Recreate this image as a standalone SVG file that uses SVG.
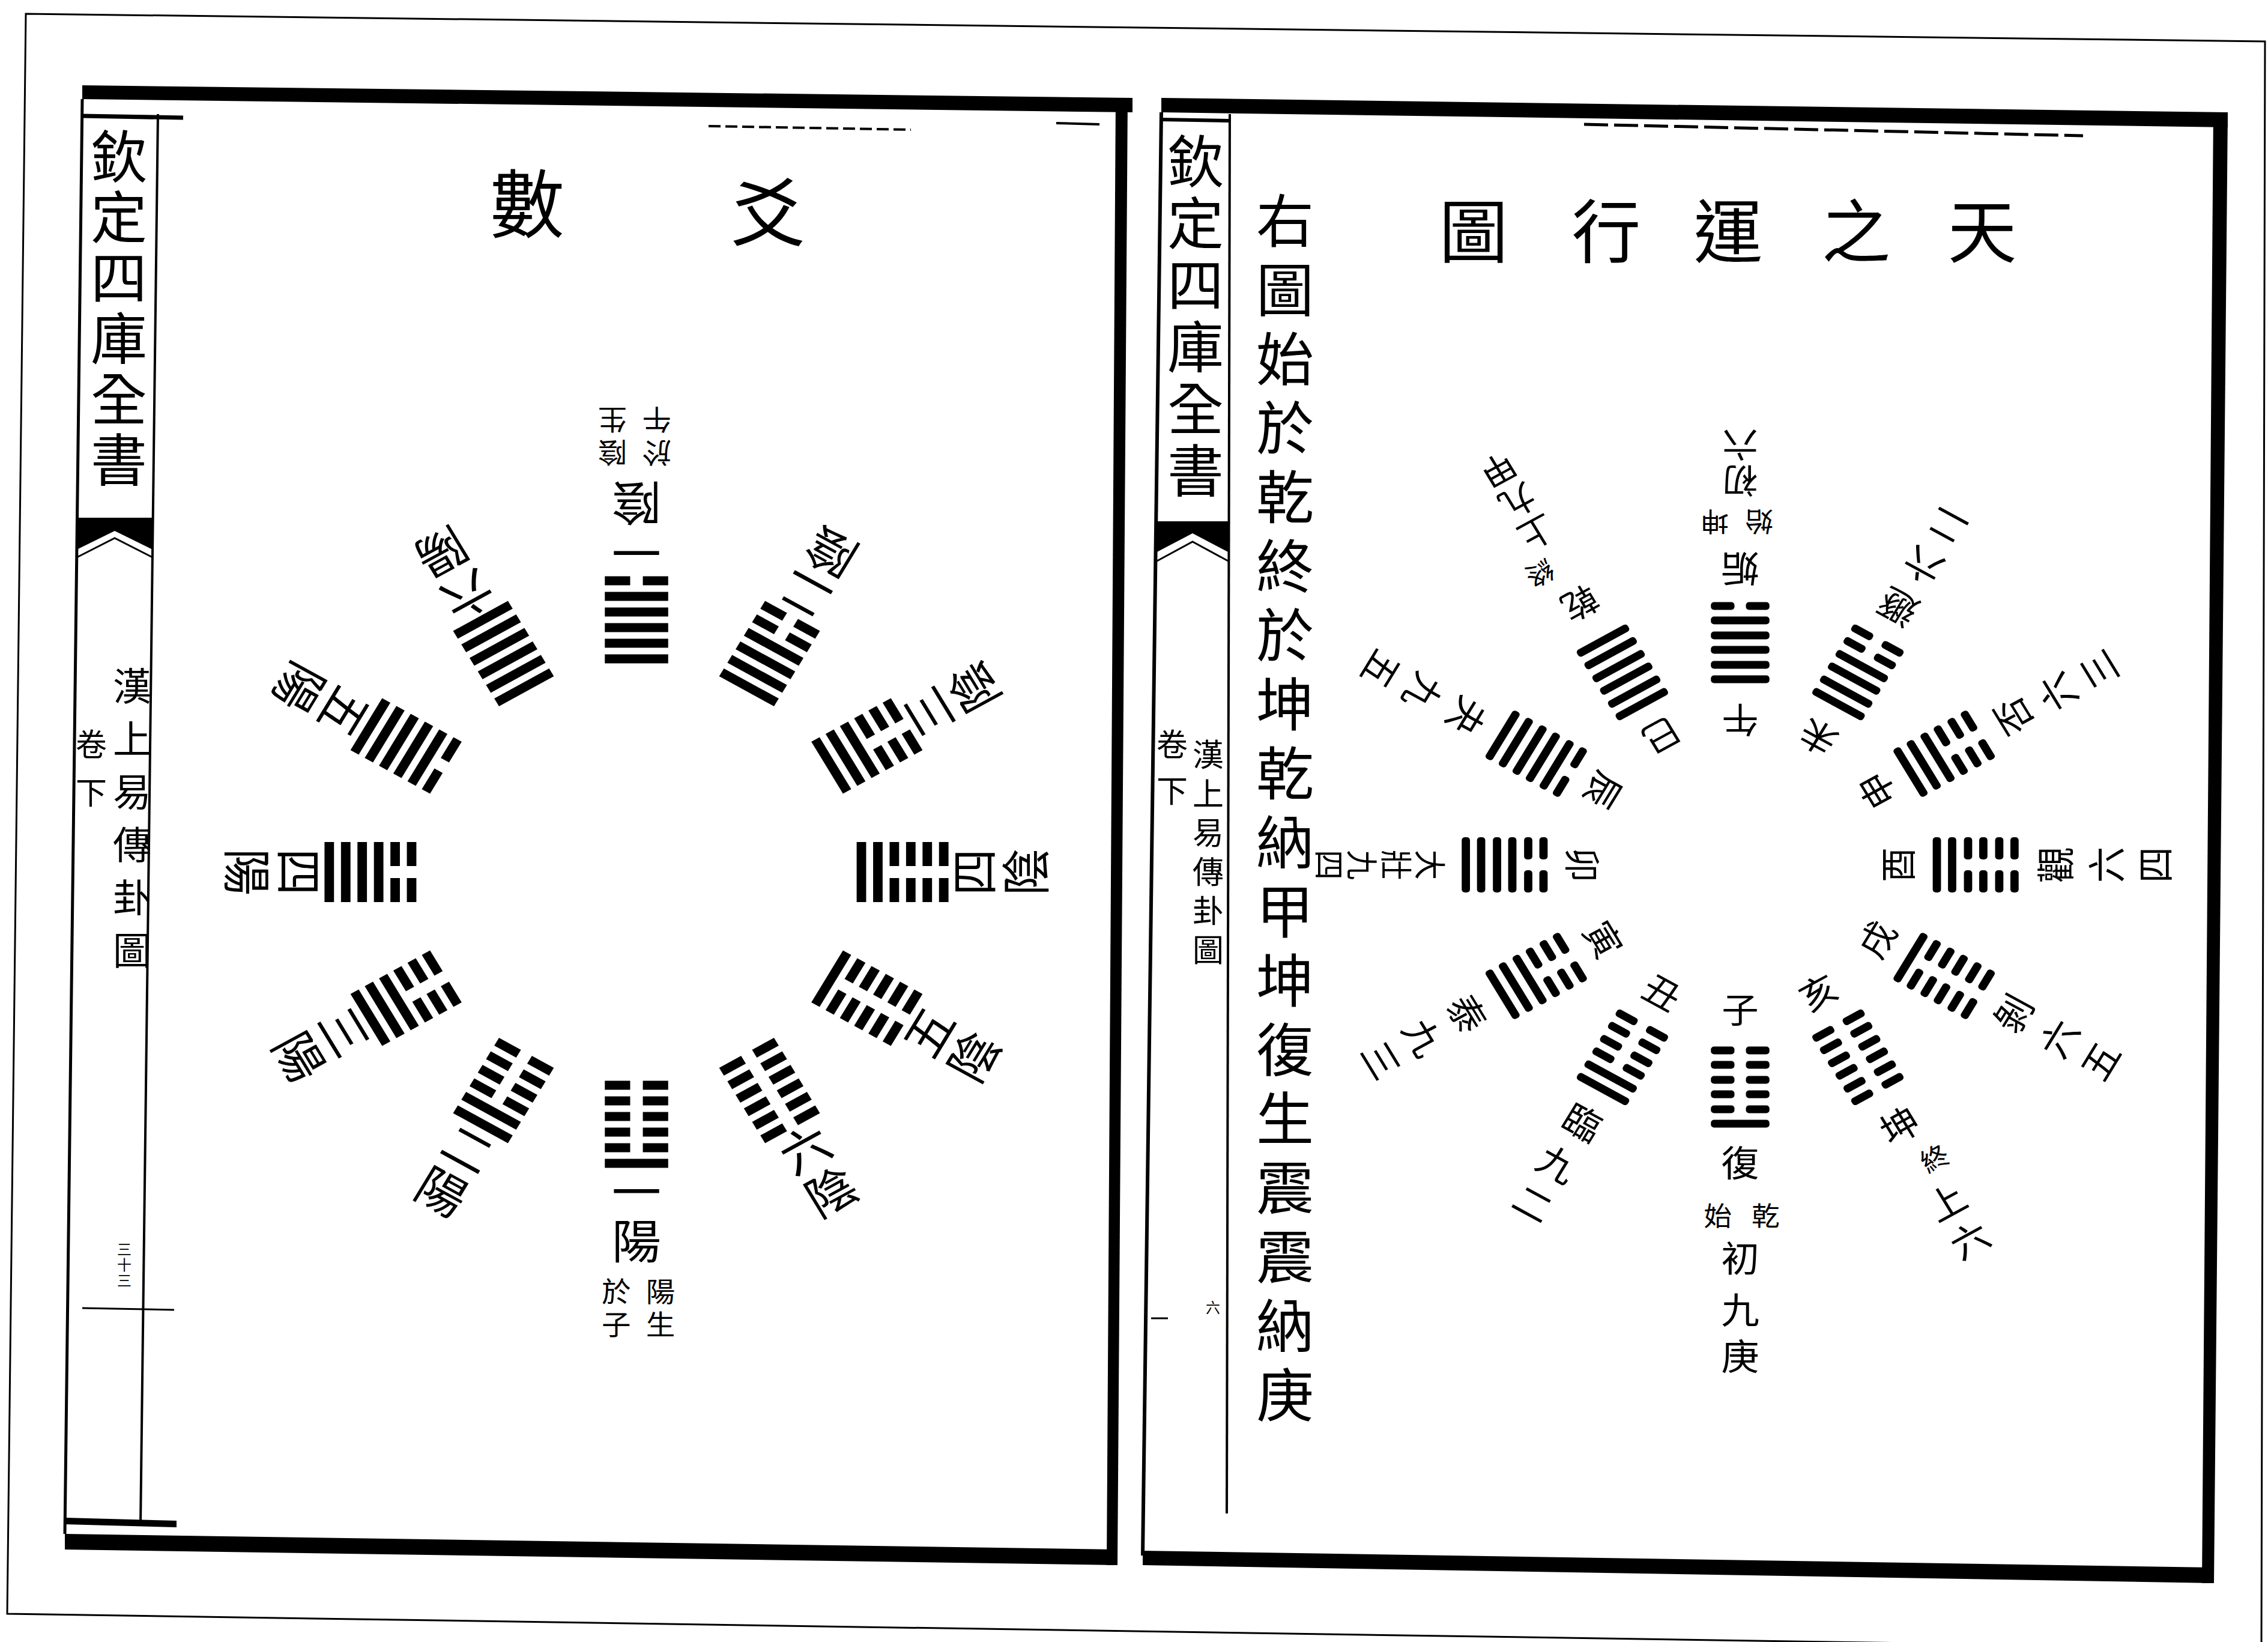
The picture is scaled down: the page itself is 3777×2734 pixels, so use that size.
<svg xmlns="http://www.w3.org/2000/svg" xmlns:xlink="http://www.w3.org/1999/xlink" width="3777" height="2734" viewBox="0 0 3777 2734">
<style>
.t{font-family:"Noto Sans CJK TC","Noto Sans CJK SC",sans-serif;text-anchor:middle;dominant-baseline:central;fill:#000}
.lb{font-size:78px}
.ls{font-size:46px}
.ro{font-size:60px}
.ro2{font-size:56px}
.ri{font-size:58px}
.rp{font-size:44px}
.r4{font-size:50px}
.ttl{font-size:115px}
.ttl2{font-size:124px}
.col{font-size:96px}
.mg{font-size:94px}
.mg2{font-size:64px}
.mg3{font-size:52px}
.pn{font-size:24px}
.ln{stroke:#000;fill:none}
.blk{fill:#000}
</style>
<defs>
<rect id="Ls" x="-50" y="-7.5" width="100" height="15"/>
<g id="Lb"><rect x="-50" y="-7.5" width="40" height="15"/><rect x="10" y="-7.5" width="40" height="15"/></g>
<rect id="Rs" x="-46" y="-6.5" width="92" height="13" rx="5"/>
<g id="Rb"><rect x="-46" y="-6.5" width="37" height="13" rx="5"/><rect x="9" y="-6.5" width="37" height="13" rx="5"/></g>
</defs>
<rect x="0" y="0" width="3777" height="2734" fill="#fff"/>

<g id="page-frame">
<polygon class="ln" stroke-width="3" points="43,23 3772,69 3766,2745 12,2687"/>
<polygon class="blk" points="137,142 1886,163 1886,187 137,165"/>
<polygon class="blk" points="1858,163 1878,163 1861,2606 1843,2606"/>
<polygon class="blk" points="108,2554 1861,2580 1861,2606 108,2580"/>
<line class="ln" stroke-width="5" x1="137" y1="165" x2="108" y2="2554"/>
<line class="ln" stroke-width="4" x1="263" y1="190" x2="234" y2="2540"/>
<line class="ln" stroke-width="7" x1="137" y1="193" x2="305" y2="196"/>
<polygon class="blk" points="108,2527 294,2532 294,2543 108,2538"/>
<line class="ln" stroke-width="3" x1="137" y1="2178" x2="290" y2="2181"/>
<polygon class="blk" points="128,862 254,862 254,915 191,884 128,915"/>
<polyline class="ln" stroke-width="3" points="128,928 191,896 254,928"/>
<line class="ln" stroke-width="4" stroke-dasharray="20 8" x1="1180" y1="210" x2="1517" y2="216"/>
<line class="ln" stroke-width="4" x1="1759" y1="205" x2="1831" y2="207"/>
<polygon class="blk" points="1934,163 3710,187 3710,212 1934,187"/>
<polygon class="blk" points="3686,187 3710,187 3687,2636 3667,2636"/>
<polygon class="blk" points="1903,2582 3687,2610 3687,2636 1903,2606"/>
<line class="ln" stroke-width="6" x1="1934" y1="187" x2="1903" y2="2590"/>
<line class="ln" stroke-width="4" x1="2048" y1="190" x2="2043" y2="2520"/>
<line class="ln" stroke-width="6" x1="1934" y1="199" x2="2046" y2="201"/>
<line class="ln" stroke-width="3" x1="1917" y1="2195" x2="1945" y2="2195"/>
<polygon class="blk" points="1925,868 2047,868 2047,920 1986,888 1925,920"/>
<polyline class="ln" stroke-width="3" points="1925,935 1986,902 2047,935"/>
<line class="ln" stroke-width="5" stroke-dasharray="40 10" x1="2638" y1="207" x2="3469" y2="226"/>
</g>

<g id="left-margin">
<text class="t mg" x="198" y="255">欽</text>
<text class="t mg" x="198" y="356">定</text>
<text class="t mg" x="198" y="457">四</text>
<text class="t mg" x="198" y="558">庫</text>
<text class="t mg" x="198" y="659">全</text>
<text class="t mg" x="198" y="760">書</text>
<text class="t mg2" x="220" y="1138">漢</text>
<text class="t mg2" x="220" y="1226">上</text>
<text class="t mg2" x="220" y="1314">易</text>
<text class="t mg2" x="220" y="1402">傳</text>
<text class="t mg2" x="220" y="1490">卦</text>
<text class="t mg2" x="220" y="1578">圖</text>
<text class="t mg3" x="152" y="1236">卷</text>
<text class="t mg3" x="152" y="1316">下</text>
<text class="t pn" x="207" y="2078">三</text>
<text class="t pn" x="207" y="2104">十</text>
<text class="t pn" x="207" y="2130">三</text>
</g>

<g id="left-title">
<text class="t ttl2" x="878" y="332">數</text>
<text class="t ttl2" x="1279" y="346">爻</text>
</g>

<g id="left-diagram" transform="translate(1060,1452) scale(1.055,1)">
<g id="L-fu" transform="rotate(0)">
<g transform="translate(0,420)"><use href="#Ls" y="65"/><use href="#Lb" y="39"/><use href="#Lb" y="13"/><use href="#Lb" y="-13"/><use href="#Lb" y="-39"/><use href="#Lb" y="-65"/></g>
<text class="t lb" x="0" y="528">一</text><text class="t lb" x="0" y="610">陽</text>
<text class="t ls" x="38" y="695">陽</text><text class="t ls" x="38" y="750">生</text>
<text class="t ls" x="-32" y="695">於</text><text class="t ls" x="-32" y="750">子</text>
</g>
<g id="L-lin" transform="rotate(30)">
<g transform="translate(0,420)"><use href="#Ls" y="65"/><use href="#Ls" y="39"/><use href="#Lb" y="13"/><use href="#Lb" y="-13"/><use href="#Lb" y="-39"/><use href="#Lb" y="-65"/></g>
<text class="t lb" x="0" y="528">二</text><text class="t lb" x="0" y="610">陽</text>
</g>
<g id="L-tai" transform="rotate(60)">
<g transform="translate(0,420)"><use href="#Ls" y="65"/><use href="#Ls" y="39"/><use href="#Ls" y="13"/><use href="#Lb" y="-13"/><use href="#Lb" y="-39"/><use href="#Lb" y="-65"/></g>
<text class="t lb" x="0" y="528">三</text><text class="t lb" x="0" y="610">陽</text>
</g>
<g id="L-dazhuang" transform="rotate(90)">
<g transform="translate(0,420)"><use href="#Ls" y="65"/><use href="#Ls" y="39"/><use href="#Ls" y="13"/><use href="#Ls" y="-13"/><use href="#Lb" y="-39"/><use href="#Lb" y="-65"/></g>
<text class="t lb" x="0" y="528">四</text><text class="t lb" x="0" y="610">陽</text>
</g>
<g id="L-guai" transform="rotate(120)">
<g transform="translate(0,420)"><use href="#Ls" y="65"/><use href="#Ls" y="39"/><use href="#Ls" y="13"/><use href="#Ls" y="-13"/><use href="#Ls" y="-39"/><use href="#Lb" y="-65"/></g>
<text class="t lb" x="0" y="528">五</text><text class="t lb" x="0" y="610">陽</text>
</g>
<g id="L-qian" transform="rotate(150)">
<g transform="translate(0,420)"><use href="#Ls" y="65"/><use href="#Ls" y="39"/><use href="#Ls" y="13"/><use href="#Ls" y="-13"/><use href="#Ls" y="-39"/><use href="#Ls" y="-65"/></g>
<text class="t lb" x="0" y="528">六</text><text class="t lb" x="0" y="610">陽</text>
</g>
<g id="L-gou" transform="rotate(180)">
<g transform="translate(0,420)"><use href="#Lb" y="65"/><use href="#Ls" y="39"/><use href="#Ls" y="13"/><use href="#Ls" y="-13"/><use href="#Ls" y="-39"/><use href="#Ls" y="-65"/></g>
<text class="t lb" x="0" y="528">一</text><text class="t lb" x="0" y="610">陰</text>
<text class="t ls" x="38" y="695">陰</text><text class="t ls" x="38" y="750">生</text>
<text class="t ls" x="-32" y="695">於</text><text class="t ls" x="-32" y="750">午</text>
</g>
<g id="L-dun" transform="rotate(210)">
<g transform="translate(0,420)"><use href="#Lb" y="65"/><use href="#Lb" y="39"/><use href="#Ls" y="13"/><use href="#Ls" y="-13"/><use href="#Ls" y="-39"/><use href="#Ls" y="-65"/></g>
<text class="t lb" x="0" y="528">二</text><text class="t lb" x="0" y="610">陰</text>
</g>
<g id="L-pi" transform="rotate(240)">
<g transform="translate(0,420)"><use href="#Lb" y="65"/><use href="#Lb" y="39"/><use href="#Lb" y="13"/><use href="#Ls" y="-13"/><use href="#Ls" y="-39"/><use href="#Ls" y="-65"/></g>
<text class="t lb" x="0" y="528">三</text><text class="t lb" x="0" y="610">陰</text>
</g>
<g id="L-guan" transform="rotate(270)">
<g transform="translate(0,420)"><use href="#Lb" y="65"/><use href="#Lb" y="39"/><use href="#Lb" y="13"/><use href="#Lb" y="-13"/><use href="#Ls" y="-39"/><use href="#Ls" y="-65"/></g>
<text class="t lb" x="0" y="528">四</text><text class="t lb" x="0" y="610">陰</text>
</g>
<g id="L-bo" transform="rotate(300)">
<g transform="translate(0,420)"><use href="#Lb" y="65"/><use href="#Lb" y="39"/><use href="#Lb" y="13"/><use href="#Lb" y="-13"/><use href="#Lb" y="-39"/><use href="#Ls" y="-65"/></g>
<text class="t lb" x="0" y="528">五</text><text class="t lb" x="0" y="610">陰</text>
</g>
<g id="L-kun" transform="rotate(330)">
<g transform="translate(0,420)"><use href="#Lb" y="65"/><use href="#Lb" y="39"/><use href="#Lb" y="13"/><use href="#Lb" y="-13"/><use href="#Lb" y="-39"/><use href="#Lb" y="-65"/></g>
<text class="t lb" x="0" y="528">六</text><text class="t lb" x="0" y="610">陰</text>
</g>
</g>

<g id="right-margin">
<text class="t mg" x="1991" y="263">欽</text>
<text class="t mg" x="1991" y="366">定</text>
<text class="t mg" x="1991" y="469">四</text>
<text class="t mg" x="1991" y="572">庫</text>
<text class="t mg" x="1991" y="675">全</text>
<text class="t mg" x="1991" y="778">書</text>
<text class="t mg3" x="2012" y="1253">漢</text>
<text class="t mg3" x="2012" y="1318">上</text>
<text class="t mg3" x="2012" y="1383">易</text>
<text class="t mg3" x="2012" y="1448">傳</text>
<text class="t mg3" x="2012" y="1513">卦</text>
<text class="t mg3" x="2012" y="1578">圖</text>
<text class="t mg3" x="1952" y="1236">卷</text>
<text class="t mg3" x="1952" y="1313">下</text>
<text class="t pn" x="2020" y="2175">六</text>
</g>

<g id="right-title">
<text class="t ttl" x="3301" y="378">天</text>
<text class="t ttl" x="3091" y="378">之</text>
<text class="t ttl" x="2878" y="378">運</text>
<text class="t ttl" x="2675" y="378">行</text>
<text class="t ttl" x="2454" y="378">圖</text>
</g>

<g id="right-note">
<text class="t col" x="2140" y="361">右</text>
<text class="t col" x="2140" y="476">圖</text>
<text class="t col" x="2140" y="591">始</text>
<text class="t col" x="2140" y="706">於</text>
<text class="t col" x="2140" y="821">乾</text>
<text class="t col" x="2140" y="936">終</text>
<text class="t col" x="2140" y="1051">於</text>
<text class="t col" x="2140" y="1166">坤</text>
<text class="t col" x="2140" y="1281">乾</text>
<text class="t col" x="2140" y="1396">納</text>
<text class="t col" x="2140" y="1511">甲</text>
<text class="t col" x="2140" y="1626">坤</text>
<text class="t col" x="2140" y="1741">復</text>
<text class="t col" x="2140" y="1856">生</text>
<text class="t col" x="2140" y="1971">震</text>
<text class="t col" x="2140" y="2086">震</text>
<text class="t col" x="2140" y="2201">納</text>
<text class="t col" x="2140" y="2316">庚</text>
</g>

<g id="right-diagram" transform="translate(2898,1440) scale(1.06,1)">
<g id="R-fu" transform="rotate(0)">
<g transform="translate(0,370)"><use href="#Rs" y="61"/><use href="#Rb" y="37"/><use href="#Rb" y="12"/><use href="#Rb" y="-12"/><use href="#Rb" y="-37"/><use href="#Rb" y="-61"/></g>
<text class="t ri" x="0" y="238">子</text>
<text class="t ro" x="0" y="493">復</text>
<text class="t rp" x="40" y="582">乾</text><text class="t rp" x="-35" y="582">始</text>
<text class="t ro" x="0" y="652">初</text><text class="t ro" x="0" y="738">九</text><text class="t ro" x="0" y="815">庚</text>
</g>
<g id="R-lin" transform="rotate(30)">
<g transform="translate(0,370)"><use href="#Rs" y="61"/><use href="#Rs" y="37"/><use href="#Rb" y="12"/><use href="#Rb" y="-12"/><use href="#Rb" y="-37"/><use href="#Rb" y="-61"/></g>
<text class="t ri" x="0" y="242">丑</text>
<text class="t ro" x="0" y="492">臨</text><text class="t ro" x="0" y="572">九</text><text class="t ro" x="0" y="648">二</text>
</g>
<g id="R-tai" transform="rotate(60)">
<g transform="translate(0,370)"><use href="#Rs" y="61"/><use href="#Rs" y="37"/><use href="#Rs" y="12"/><use href="#Rb" y="-12"/><use href="#Rb" y="-37"/><use href="#Rb" y="-61"/></g>
<text class="t ri" x="0" y="245">寅</text>
<text class="t ro" x="0" y="492">泰</text><text class="t ro" x="0" y="572">九</text><text class="t ro" x="0" y="648">三</text>
</g>
<g id="R-dazhuang" transform="rotate(90)">
<g transform="translate(0,370)"><use href="#Rs" y="61"/><use href="#Rs" y="37"/><use href="#Rs" y="12"/><use href="#Rs" y="-12"/><use href="#Rb" y="-37"/><use href="#Rb" y="-61"/></g>
<text class="t ri" x="0" y="245">卯</text>
<text class="t r4" x="0" y="485">大</text><text class="t r4" x="0" y="538">壯</text><text class="t r4" x="0" y="591">九</text><text class="t r4" x="0" y="643">四</text>
</g>
<g id="R-guai" transform="rotate(120)">
<g transform="translate(0,370)"><use href="#Rs" y="61"/><use href="#Rs" y="37"/><use href="#Rs" y="12"/><use href="#Rs" y="-12"/><use href="#Rs" y="-37"/><use href="#Rb" y="-61"/></g>
<text class="t ri" x="0" y="245">辰</text>
<text class="t ro" x="0" y="492">夬</text><text class="t ro" x="0" y="572">九</text><text class="t ro" x="0" y="648">五</text>
</g>
<g id="R-qian" transform="rotate(150)">
<g transform="translate(0,370)"><use href="#Rs" y="61"/><use href="#Rs" y="37"/><use href="#Rs" y="12"/><use href="#Rs" y="-12"/><use href="#Rs" y="-37"/><use href="#Rs" y="-61"/></g>
<text class="t ri" x="0" y="245">巳</text>
<text class="t ro2" x="0" y="500">乾</text>
<text class="t rp" x="30" y="575">終</text>
<text class="t ro2" x="0" y="636">上</text><text class="t ro2" x="0" y="696">九</text><text class="t ro2" x="0" y="756">甲</text>
</g>
<g id="R-gou" transform="rotate(180)">
<g transform="translate(0,370)"><use href="#Rb" y="61"/><use href="#Rs" y="37"/><use href="#Rs" y="12"/><use href="#Rs" y="-12"/><use href="#Rs" y="-37"/><use href="#Rs" y="-61"/></g>
<text class="t ri" x="0" y="238">午</text>
<text class="t ro" x="0" y="490">姤</text>
<text class="t rp" x="40" y="569">坤</text><text class="t rp" x="-30" y="569">始</text>
<text class="t ro2" x="0" y="636">初</text><text class="t ro2" x="0" y="696">六</text>
</g>
<g id="R-dun" transform="rotate(210)">
<g transform="translate(0,370)"><use href="#Rb" y="61"/><use href="#Rb" y="37"/><use href="#Rs" y="12"/><use href="#Rs" y="-12"/><use href="#Rs" y="-37"/><use href="#Rs" y="-61"/></g>
<text class="t ri" x="0" y="242">未</text>
<text class="t ro" x="0" y="492">遯</text><text class="t ro" x="0" y="572">六</text><text class="t ro" x="0" y="648">二</text>
</g>
<g id="R-pi" transform="rotate(240)">
<g transform="translate(0,370)"><use href="#Rb" y="61"/><use href="#Rb" y="37"/><use href="#Rb" y="12"/><use href="#Rs" y="-12"/><use href="#Rs" y="-37"/><use href="#Rs" y="-61"/></g>
<text class="t ri" x="0" y="245">申</text>
<text class="t ro" x="0" y="492">否</text><text class="t ro" x="0" y="572">六</text><text class="t ro" x="0" y="648">三</text>
</g>
<g id="R-guan" transform="rotate(270)">
<g transform="translate(0,370)"><use href="#Rb" y="61"/><use href="#Rb" y="37"/><use href="#Rb" y="12"/><use href="#Rb" y="-12"/><use href="#Rs" y="-37"/><use href="#Rs" y="-61"/></g>
<text class="t ri" x="0" y="245">酉</text>
<text class="t ro" x="0" y="492">觀</text><text class="t ro" x="0" y="572">六</text><text class="t ro" x="0" y="648">四</text>
</g>
<g id="R-bo" transform="rotate(300)">
<g transform="translate(0,370)"><use href="#Rb" y="61"/><use href="#Rb" y="37"/><use href="#Rb" y="12"/><use href="#Rb" y="-12"/><use href="#Rb" y="-37"/><use href="#Rs" y="-61"/></g>
<text class="t ri" x="0" y="245">戌</text>
<text class="t ro" x="0" y="492">剝</text><text class="t ro" x="0" y="575">六</text><text class="t ro" x="0" y="650">五</text>
</g>
<g id="R-kun" transform="rotate(330)">
<g transform="translate(0,370)"><use href="#Rb" y="61"/><use href="#Rb" y="37"/><use href="#Rb" y="12"/><use href="#Rb" y="-12"/><use href="#Rb" y="-37"/><use href="#Rb" y="-61"/></g>
<text class="t ri" x="0" y="242">亥</text>
<text class="t ro" x="0" y="498">坤</text>
<text class="t rp" x="20" y="573">終</text>
<text class="t ro" x="0" y="645">上</text><text class="t ro" x="0" y="718">六</text>
</g>
</g>
<g id="connectors"/>
</svg>
